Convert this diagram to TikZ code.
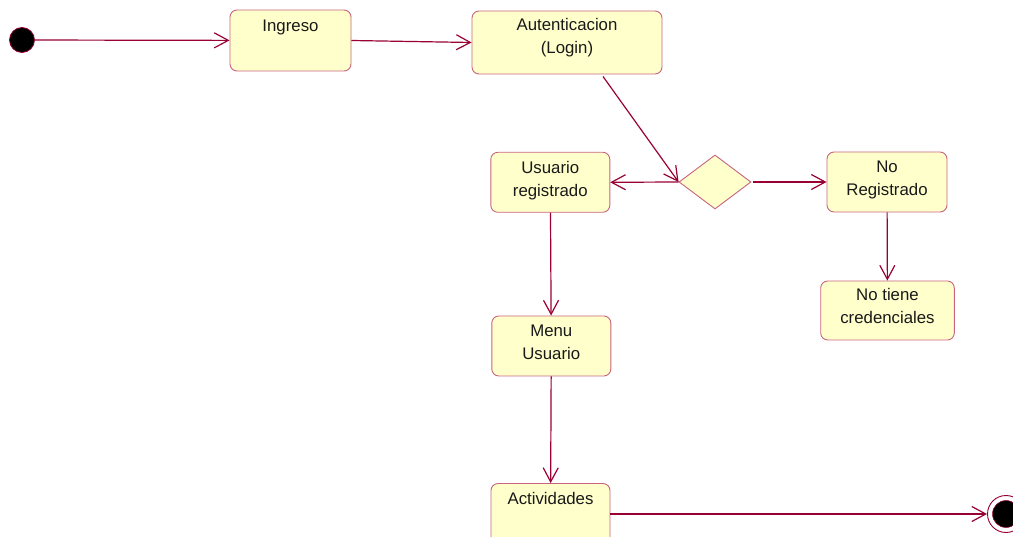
\documentclass[tikz,border=0pt]{standalone}
\usepackage{fontspec}
\setmainfont{Liberation Sans}
\usetikzlibrary{arrows.meta,shapes.geometric,calc}
\definecolor{statefill}{HTML}{FFFFCC}
\definecolor{stateline}{HTML}{C8647F}
\definecolor{flow}{HTML}{990033}

\begin{document}
\begin{tikzpicture}[x=1pt,y=-1pt,
  state/.style={draw=stateline, fill=statefill, rounded corners=7pt,
    line width=0.9pt, inner sep=0pt},
  % base anchor sits on the last line of a caption
  caption/.style={anchor=base, align=center, inner sep=0pt,
    font=\fontsize{16.8}{23}\selectfont, text=black!90},
  flowline/.style={draw=flow, line width=1.2pt,
    -{Straight Barb[length=14pt,width=15pt,line width=1.2pt]}},
  ]
\useasboundingbox (0,0) rectangle (1013,537);

% pseudo-states
\node[circle, fill=black, draw=flow, line width=0.8pt, minimum size=25pt,
  inner sep=0pt] (init) at (22,40) {};
\node[circle, draw=flow, fill=white, line width=0.9pt, minimum size=37pt,
  inner sep=0pt] (final) at (1006,514) {};
\node[circle, fill=black, draw=flow, line width=0.5pt, minimum size=27pt,
  inner sep=0pt] (finaldot) at (final.center) {};

% activity states
\node[state, minimum width=121pt, minimum height=61pt] (ingreso) at (290.5,40.5) {};
\node[state, minimum width=190pt, minimum height=63pt] (autent) at (567,42.5) {};
\node[state, minimum width=119pt, minimum height=60pt] (usuario) at (550.3,182.3) {};
\node[state, minimum width=120pt, minimum height=60pt] (noreg) at (887,182) {};
\node[state, minimum width=133.6pt, minimum height=59pt] (notiene) at (887.5,310.5) {};
\node[state, minimum width=119pt, minimum height=60pt] (menu) at (551.3,346) {};
\node[state, minimum width=119pt, minimum height=61pt] (activ) at (550.5,514) {};

% decision
\node[diamond, draw=stateline, fill=statefill, line width=0.9pt,
  minimum width=72pt, minimum height=54pt, inner sep=0pt] (dec) at (715,182) {};

% state names
\node[caption] (ingresoT) at (290.5,31.5) {Ingreso};
\node[caption] (autentT) at (567,53.8) {Autenticacion\\(Login)};
\node[caption] (usuarioT) at (550.3,196.3) {Usuario\\registrado};
\node[caption] (noregT) at (887,195.3) {No\\Registrado};
\node[caption] (notieneT) at (887.5,323.6) {No tiene\\credenciales};
\node[caption] (menuT) at (551.3,359.5) {Menu\\Usuario};
\node[caption] (activT) at (550.5,504) {Actividades};

% transitions
\draw[flowline] (init) -- (ingreso);
\draw[flowline] (ingreso.east) -- (autent.west);
\draw[flowline] ([xshift=36pt,yshift=-2pt]autent.south) -- (dec.west);
\draw[flowline] (dec.west) -- (usuario.east);
\draw[flowline] ([xshift=2pt]dec.east) -- (noreg.west);
\draw[flowline] (noreg) -- (notiene);
\draw[flowline] (usuario) -- (menu);
\draw[flowline] (menu) -- (activ);
\draw[flowline] (activ) -- (final);
\end{tikzpicture}
\end{document}
